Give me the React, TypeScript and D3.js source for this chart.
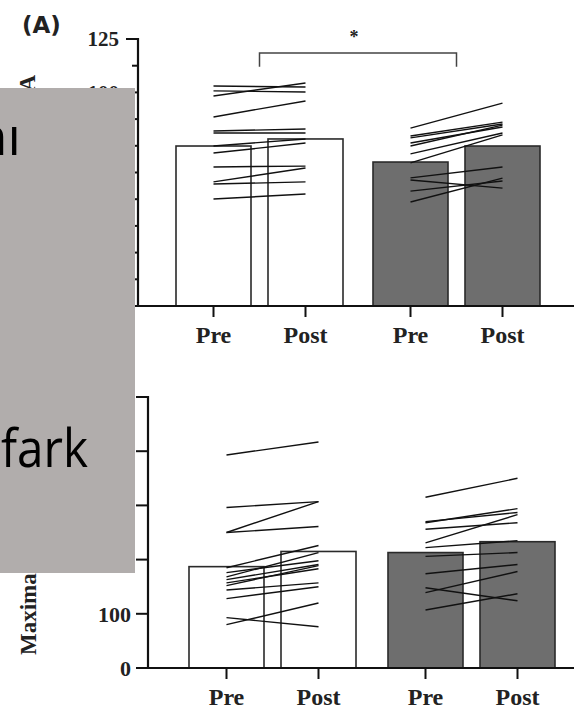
import React from "react";
import * as d3 from "d3";

// groups and time points
const groups = ["Control", "Training"];
const conditions = ["Pre", "Post"];

// panel A (top)
const topTicks = [0, 25, 50, 75, 100, 125];
const topMinorTicks = [12.5, 37.5, 62.5, 87.5, 112.5];
const topMeansControl = [74.9, 78.2];
const topMeansTraining = [67.4, 74.9];
const topControlPre = [103.0, 100.7, 98.3, 88.5, 81.9, 81.0, 74.9, 71.6, 65.1, 58.1, 57.1, 50.1];
const topControlPost = [102.5, 100.2, 104.4, 96.0, 82.9, 81.0, 78.2, 76.3, 65.5, 64.6, 58.1, 52.4];
const topTrainingPre = [83.3, 79.6, 78.7, 76.3, 74.9, 71.2, 67.0, 60.0, 59.0, 53.8, 48.7];
const topTrainingPost = [95.0, 86.1, 85.2, 83.8, 84.7, 81.0, 80.1, 65.1, 55.2, 58.5, 59.9];
const topBracket = [118.5, 112]; // level of bracket, level of its feet

// bottom panel
const bottomTicks = [0, 100, 200, 300, 400, 500];
const bottomMeansControl = [187, 215];
const bottomMeansTraining = [213, 233];
const bottomControlPre = [393, 296, 250, 250, 185, 176, 168, 163, 157, 152, 144, 128, 93, 80];
const bottomControlPost = [417, 307, 307, 261, 226, 198, 213, 191, 183, 189, 157, 150, 76, 120];
const bottomTrainingPre = [315, 270, 268, 256, 231, 222, 206, 174, 148, 139, 107];
const bottomTrainingPost = [350, 287, 294, 268, 283, 235, 213, 191, 124, 178, 137];

const serif = "'Liberation Serif', 'Times New Roman', serif";

type PanelProps = {
  left: number;
  top: number;
  bottom: number;
  xRange: [number, number];
  yMax: number;
  ticks: number[];
  minorTicks?: number[];
  means: number[][];
  pre: number[][];
  post: number[][];
  tickFont: number;
  labelRight: number;
  bracket?: number[];
};

function Panel(p: PanelProps) {
  const y = d3.scaleLinear().domain([0, p.yMax]).range([p.bottom, p.top]);
  const xGroup = d3.scaleBand().domain(groups).range(p.xRange);
  const xCond = d3.scalePoint().domain(conditions).range([-46, 46]);
  const cx = (g: string, c: string) =>
    (xGroup(g) as number) + xGroup.bandwidth() / 2 + (xCond(c) as number);
  const gc = (g: string) => (xGroup(g) as number) + xGroup.bandwidth() / 2;
  const barW = 75;
  const fills = ["#ffffff", "#6e6e6e"];

  return (
    <g>
      {/* bars */}
      {groups.map((g, gi) =>
        conditions.map((c, ci) => (
          <rect
            key={g + c}
            x={cx(g, c) - barW / 2}
            y={y(p.means[gi][ci])}
            width={barW}
            height={p.bottom - y(p.means[gi][ci])}
            fill={fills[gi]}
            stroke="#2a2a2a"
            strokeWidth={1.6}
          />
        ))
      )}
      {/* individual pre-post lines */}
      {groups.map((g, gi) =>
        p.pre[gi].map((v, i) => (
          <line
            key={g + i}
            x1={cx(g, "Pre")}
            x2={cx(g, "Post")}
            y1={y(v)}
            y2={y(p.post[gi][i])}
            stroke="#111"
            strokeWidth={1.4}
          />
        ))
      )}
      {/* y axis */}
      <line x1={p.left} x2={p.left} y1={y(p.yMax) - 1} y2={p.bottom + 1} stroke="#111" strokeWidth={2.2} />
      {p.ticks.map((t) => (
        <g key={t}>
          <line x1={p.left - 12} x2={p.left} y1={y(t)} y2={y(t)} stroke="#111" strokeWidth={2} />
          <text
            x={p.labelRight}
            y={y(t)}
            dy="0.35em"
            textAnchor="end"
            fontFamily={serif}
            fontWeight="bold"
            fontSize={p.tickFont}
            fill="#222"
          >
            {t}
          </text>
        </g>
      ))}
      {(p.minorTicks || []).map((t) => (
        <line key={t} x1={p.left - 6} x2={p.left} y1={y(t)} y2={y(t)} stroke="#111" strokeWidth={2} />
      ))}
      {/* x axis */}
      <line x1={p.left} x2={574} y1={p.bottom} y2={p.bottom} stroke="#111" strokeWidth={2.2} />
      {groups.map((g) =>
        conditions.map((c) => (
          <g key={g + c}>
            <line x1={cx(g, c)} x2={cx(g, c)} y1={p.bottom} y2={p.bottom + 11} stroke="#111" strokeWidth={2} />
            <text
              x={cx(g, c)}
              y={p.bottom + 37}
              textAnchor="middle"
              fontFamily={serif}
              fontWeight="bold"
              fontSize={24}
              fill="#222"
            >
              {c}
            </text>
          </g>
        ))
      )}
      {p.bracket && (
        <g>
          <path
            d={`M${gc(groups[0])},${y(p.bracket[1])}V${y(p.bracket[0])}H${gc(groups[1])}V${y(p.bracket[1])}`}
            fill="none"
            stroke="#444"
            strokeWidth={1.5}
          />
          <text
            x={(gc(groups[0]) + gc(groups[1])) / 2 - 4}
            y={y(p.bracket[0]) - 10}
            textAnchor="middle"
            fontFamily={serif}
            fontWeight="bold"
            fontSize={18}
            fill="#222"
          >
            *
          </text>
        </g>
      )}
    </g>
  );
}

export default function App() {
  return (
    <svg
      width={574}
      height={710}
      style={{ position: "absolute", left: 0, top: 0, background: "#fff" }}
    >
      <text x={22} y={33} fontFamily="'DejaVu Sans', sans-serif" fontWeight="bold" fontSize={23} fill="#222">
        (A)
      </text>
      <text
        transform="translate(35,75) rotate(-90)"
        textAnchor="end"
        fontFamily={serif}
        fontWeight="bold"
        fontSize={23}
        fill="#222"
      >
        Muscle activity %MVA
      </text>
      <text
        transform="translate(36,655) rotate(-90)"
        textAnchor="start"
        fontFamily={serif}
        fontWeight="bold"
        fontSize={23}
        fill="#222"
      >
        Maximal force (N)
      </text>
      <Panel
        left={138}
        top={39}
        bottom={306}
        xRange={[161, 555]}
        yMax={125}
        ticks={topTicks}
        minorTicks={topMinorTicks}
        means={[topMeansControl, topMeansTraining]}
        pre={[topControlPre, topTrainingPre]}
        post={[topControlPost, topTrainingPost]}
        tickFont={21}
        labelRight={119}
        bracket={topBracket}
      />
      <Panel
        left={148}
        top={397}
        bottom={668}
        xRange={[173, 571]}
        yMax={500}
        ticks={bottomTicks}
        means={[bottomMeansControl, bottomMeansTraining]}
        pre={[bottomControlPre, bottomTrainingPre]}
        post={[bottomControlPost, bottomTrainingPost]}
        tickFont={22}
        labelRight={131}
      />
      {/* grey caption box laid over the left side */}
      <rect x={0} y={88} width={135} height={485} fill="#b1adac" />
      <text x={21} y={155} textAnchor="end" fontFamily="'Open Sans', sans-serif" fontSize={53} fill="#000">
        nı
      </text>
      <text
        x={1}
        y={467}
        textLength={87}
        lengthAdjust="spacingAndGlyphs"
        fontFamily="'Open Sans', sans-serif"
        fontSize={53}
        fill="#000"
      >
        fark
      </text>
    </svg>
  );
}
